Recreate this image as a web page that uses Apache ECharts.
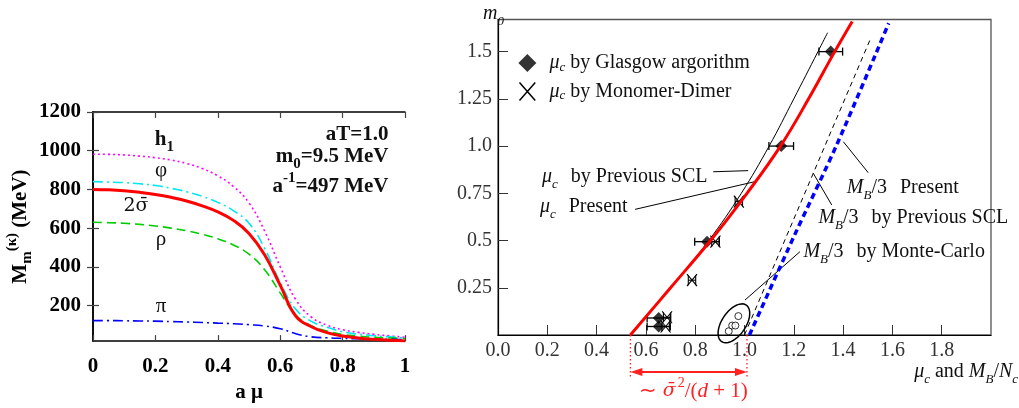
<!DOCTYPE html>
<html>
<head>
<meta charset="utf-8">
<script src="https://cdn.jsdelivr.net/npm/echarts@6/dist/echarts.min.js"></script>
<style>
html, body { margin: 0; padding: 0; background: #fff; }
#chart { width: 1019px; height: 408px; }
</style>
</head>
<body>
<div id="chart"></div>
<script>
// ---------- left panel: meson masses against a*mu ----------
var amu = [0, 0.05, 0.1, 0.15, 0.2, 0.25, 0.3, 0.35, 0.4, 0.45, 0.5, 0.55, 0.6, 0.65, 0.7, 0.75, 0.8, 0.85, 0.9, 0.95, 1.0];
var massH1    = [982, 981, 978, 972, 964, 952, 934, 908, 870, 815, 730, 585, 400, 230, 140, 98, 75, 61, 51, 43, 36];
var massPhi   = [840, 838, 835, 829, 820, 806, 788, 764, 733, 690, 625, 495, 320, 180, 118, 88, 64, 52, 44, 38, 32];
var massSigma = [800, 798, 793, 785, 774, 759, 740, 715, 684, 640, 572, 462, 305, 145, 90, 60, 42, 32, 25, 20, 17];
var massRho   = [630, 628, 625, 619, 611, 600, 586, 568, 545, 513, 465, 385, 265, 150, 95, 68, 50, 42, 36, 32, 28];
var massPi    = [122, 122, 121, 120, 119, 117, 115, 112, 109, 106, 101, 94, 80, 54, 38, 33, 30, 28, 27, 25, 24];
var leftXTicks = [0, 0.2, 0.4, 0.6, 0.8, 1];
var leftYTicks = [200, 400, 600, 800, 1000, 1200];

// ---------- right panel: critical chemical potential ----------
var presentM0 = [0, 0.25, 0.5, 0.75, 1.0, 1.25, 1.5, 1.66];
var presentMu = [0.537, 0.70, 0.862, 1.01, 1.146, 1.26, 1.366, 1.437];
var sclM0 = [0, 0.25, 0.5, 0.75, 1.0, 1.25, 1.5, 1.6];
var sclMu = [0.537, 0.70, 0.855, 0.987, 1.10, 1.20, 1.298, 1.337];
var mbPresentM0 = [0, 0.52, 1.015, 1.65];
var mbPresentMu = [1.02, 1.2, 1.377, 1.585];
var mbSclM0 = [0, 1.571];
var mbSclMu = [1.0, 1.512];
var glasgowMu  = [0.652, 0.652, 0.848, 1.149, 1.35];
var glasgowM0  = [0.045, 0.09, 0.494, 1.0, 1.5];
var glasgowErr = [0.047, 0.047, 0.05, 0.05, 0.048];
var dimerMu  = [0.68, 0.686, 0.787, 0.882, 0.977];
var dimerM0  = [0.045, 0.094, 0.29, 0.494, 0.706];
var dimerErr = [0.015, 0.015, 0.015, 0.015, 0.015];
var monteMu = [0.936, 0.95, 0.963, 0.975];
var monteM0 = [0.02, 0.05, 0.05, 0.1];
var rightXTicks = [0, 0.2, 0.4, 0.6, 0.8, 1.0, 1.2, 1.4, 1.6, 1.8];
var rightYTicks = [0.25, 0.5, 0.75, 1.0, 1.25, 1.5];
var muGap = [0.537, 1.01];   // red bracket under the axis

var SERIF = "'Liberation Serif', 'Times New Roman', serif";
var DJ = "'DejaVu Serif', serif";

function zip(xs, ys) { return xs.map(function (x, i) { return [x, ys[i]]; }); }

// rich text pieces
function rt(size, weight, extra) {
  var o = { fontFamily: SERIF, fontSize: size, fontWeight: weight || 'normal', fontStyle: 'normal' };
  for (var k in extra) o[k] = extra[k];
  return o;
}
var richR = {
  n: rt(20),
  i: rt(20, 'normal', { fontStyle: 'italic' }),
  s: rt(13, 'normal', { fontStyle: 'italic', verticalAlign: 'bottom', lineHeight: 28 }),
  g: rt(20, 'normal', { padding: [0, 0, 0, 13] }),
  r: rt(21, 'normal', { fill: '#ff2020' }),
  ri: rt(21, 'normal', { fill: '#ff2020', fontStyle: 'italic' }),
  rs: rt(19, 'normal', { fill: '#ff2020', fontStyle: 'italic', fontFamily: DJ }),
  ru: rt(14, 'normal', { fill: '#ff2020', verticalAlign: 'top', lineHeight: 30, padding: [0, 0, 0, 2] })
};
var richL = {
  b: rt(21, 'bold'),
  n: rt(21),
  d: rt(19, 'normal', { fontFamily: DJ }),
  bs: rt(15, 'bold', { verticalAlign: 'bottom', lineHeight: 30 }),
  bp: rt(15, 'bold', { verticalAlign: 'top', lineHeight: 30 })
};

// text annotations: [x, y, text, align]
var leftNotes = [
  [0.198, 1059, '{b|h}{bs|1}', 'left'],
  [0.218, 898, '{n|φ}', 'center'],
  [0.138, 716, '{d|2σ̄}', 'center'],
  [0.218, 540, '{n|ρ}', 'center'],
  [0.218, 197, '{n|π}', 'center'],
  [0.947, 1084, '{b|aT=1.0}', 'right'],
  [0.947, 968, '{b|m}{bs|0}{b|=9.5 MeV}', 'right'],
  [0.947, 817, '{b|a}{bp|-1}{b|=497 MeV}', 'right']
];
var rightNotes = [
  [0.1785, 0.836, '{i|μ}{s|c}{g|by Previous SCL}', 'left'],
  [0.170, 0.678, '{i|μ}{s|c}{g|Present}', 'left'],
  [1.415, 0.777, '{i|M}{s|B}{n|/3}{g|Present}', 'left'],
  [1.30, 0.618, '{i|M}{s|B}{n|/3}{g|by Previous SCL}', 'left'],
  [1.239, 0.441, '{i|M}{s|B}{n|/3}{g|by Monte-Carlo}', 'left'],
  [-0.061, 1.70, '{i|m}{s|0}', 'left'],
  [2.11, -0.196, '{i|μ}{s|c}{n| and }{i|M}{s|B}{n|/}{i|N}{s|c}', 'right']
];
// leader lines from the labels: [x1, y1, x2, y2]
var leaders = [
  [0.873, 0.864, 1.015, 0.870],
  [0.556, 0.665, 1.043, 0.812],
  [1.401, 1.023, 1.502, 0.859],
  [1.279, 0.856, 1.354, 0.688],
  [1.002, 0.185, 1.225, 0.441]
];

function seg(x1, y1, x2, y2, style) {
  return { type: 'line', shape: { x1: x1, y1: y1, x2: x2, y2: y2 }, style: style };
}

function noteSeries(xi, yi, notes, rich) {
  return {
    type: 'custom', xAxisIndex: xi, yAxisIndex: yi, clip: false, silent: true, z: 10,
    data: notes.map(function (n) { return [n[0], n[1]]; }),
    renderItem: function (params, api) {
      var n = notes[params.dataIndex];
      var p = api.coord([api.value(0), api.value(1)]);
      return { type: 'text', x: p[0], y: p[1],
        style: { text: n[2], rich: rich, align: n[3], verticalAlign: 'middle', fill: '#111',
                 fontFamily: SERIF, fontSize: 20 } };
    }
  };
}

function leftLine(name, data, color, width, type) {
  return { name: name, type: 'line', xAxisIndex: 0, yAxisIndex: 0, symbol: 'none',
    smooth: 0.45, data: zip(amu, data),
    lineStyle: { color: color, width: width, type: type } };
}

var chart = echarts.init(document.getElementById('chart'));

var leftTick = { show: true, inside: true, length: 6, lineStyle: { color: '#444', width: 1.2 } };
var leftLineStyle = { show: true, lineStyle: { color: '#000', width: 1.5 } };
var rightTick = { show: true, inside: true, length: 10, lineStyle: { color: '#333', width: 1 } };

chart.setOption({
  animation: false,
  grid: [
    { left: 93, top: 112, width: 312, height: 235, show: false },
    { left: 498, top: 19.5, width: 493, height: 315.5, show: true, borderColor: '#555', borderWidth: 1.3 }
  ],
  legend: {
    left: 512, top: 48, orient: 'vertical', itemGap: 6, itemWidth: 18, itemHeight: 18,
    selectedMode: false,
    data: [
      { name: 'glasgow', icon: 'diamond', itemStyle: { color: '#000' } },
      { name: 'monomer', icon: 'path://M0,0L14,16M14,0L0,16',
        itemStyle: { color: 'none', borderColor: '#000', borderWidth: 1.5 } }
    ],
    formatter: function (name) {
      return name === 'glasgow' ? '{i|μ}{s|c}{n| by Glasgow argorithm}'
                                : '{i|μ}{s|c}{n| by Monomer-Dimer}';
    },
    textStyle: { color: '#111', rich: {
      n: rt(20, 'normal', { color: '#111' }),
      i: rt(20, 'normal', { fontStyle: 'italic', padding: [0, 0, 0, 8], color: '#111' }),
      s: rt(13, 'normal', { fontStyle: 'italic', verticalAlign: 'bottom', lineHeight: 22, color: '#111' })
    } }
  },
  xAxis: [
    { gridIndex: 0, type: 'value', min: 0, max: 1, interval: 0.2,
      axisLine: leftLineStyle, axisTick: leftTick, splitLine: { show: false },
      axisLabel: { margin: 15, color: '#000', fontFamily: SERIF, fontWeight: 'bold', fontSize: 21,
        customValues: leftXTicks,
        formatter: function (v) { return (v === 0 || v === 1) ? String(v) : v.toFixed(1); } },
      name: 'a μ', nameLocation: 'middle', nameGap: 36,
      nameTextStyle: { color: '#000', fontFamily: SERIF, fontWeight: 'bold', fontSize: 21 } },
    { gridIndex: 0, type: 'value', position: 'top', min: 0, max: 1, interval: 0.2,
      axisLine: leftLineStyle, axisTick: leftTick, axisLabel: { show: false }, splitLine: { show: false } },
    { gridIndex: 1, type: 'value', min: 0, max: 2,
      axisLine: { show: true, lineStyle: { color: '#000', width: 1.2 } },
      axisTick: { show: true, inside: true, length: 10, lineStyle: { color: '#333', width: 1 },
        customValues: rightXTicks.slice(1) },
      splitLine: { show: false },
      axisLabel: { margin: 6, color: '#333', fontFamily: SERIF, fontSize: 20, customValues: rightXTicks,
        formatter: function (v) { return v.toFixed(1); } } }
  ],
  yAxis: [
    { gridIndex: 0, type: 'value', min: 16, max: 1200,
      axisLine: leftLineStyle, axisTick: Object.assign({ customValues: leftYTicks }, leftTick),
      splitLine: { show: false },
      axisLabel: { margin: 12, color: '#000', fontFamily: SERIF, fontWeight: 'bold', fontSize: 21,
        customValues: leftYTicks, formatter: function (v) { return String(v); } },
      name: '{b|M}{bs|m}{bp|(κ)}{b| (MeV)}', nameLocation: 'middle', nameGap: 45, nameRotate: 90,
      nameTextStyle: { color: '#000', rich: richL } },
    { gridIndex: 0, type: 'value', position: 'right', min: 16, max: 1200,
      axisLine: leftLineStyle, axisTick: Object.assign({ customValues: leftYTicks }, leftTick),
      axisLabel: { show: false }, splitLine: { show: false } },
    { gridIndex: 1, type: 'value', min: 0, max: 1.67,
      axisLine: { show: true, lineStyle: { color: '#000', width: 1.2 } },
      axisTick: Object.assign({ customValues: rightYTicks }, rightTick),
      splitLine: { show: false },
      axisLabel: { margin: 6, color: '#333', fontFamily: SERIF, fontSize: 20, customValues: rightYTicks,
        formatter: function (v) { return v === 1 ? '1.0' : String(v); } } }
  ],
  series: [
    leftLine('h1', massH1, '#ff00ff', 1.6, [2, 3]),
    leftLine('phi', massPhi, '#00e8f0', 1.6, [10, 4, 2, 4]),
    leftLine('rho', massRho, '#00cc00', 1.6, [9, 5]),
    leftLine('pi', massPi, '#0000ff', 1.6, [10, 4, 2, 4]),
    leftLine('sigma', massSigma, '#ff0000', 3, 'solid'),
    noteSeries(0, 0, leftNotes, richL),

    { name: 'mbScl', type: 'line', xAxisIndex: 2, yAxisIndex: 2, symbol: 'none',
      data: zip(mbSclMu, mbSclM0), lineStyle: { color: '#000', width: 1, type: [5, 4] } },
    { name: 'mbPresent', type: 'line', xAxisIndex: 2, yAxisIndex: 2, symbol: 'none', smooth: 0.3,
      data: zip(mbPresentMu, mbPresentM0), lineStyle: { color: '#0000ff', width: 3.5, type: [6, 4] } },
    { name: 'scl', type: 'line', xAxisIndex: 2, yAxisIndex: 2, symbol: 'none', smooth: 0.4,
      data: zip(sclMu, sclM0), lineStyle: { color: '#000', width: 1 } },
    { name: 'present', type: 'line', xAxisIndex: 2, yAxisIndex: 2, symbol: 'none', smooth: 0.4,
      data: zip(presentMu, presentM0), lineStyle: { color: '#ff0000', width: 3 } },
    { name: 'leaders', type: 'custom', xAxisIndex: 2, yAxisIndex: 2, silent: true,
      data: leaders,
      renderItem: function (params, api) {
        var a = api.coord([api.value(0), api.value(1)]);
        var b = api.coord([api.value(2), api.value(3)]);
        return seg(a[0], a[1], b[0], b[1], { stroke: '#000', lineWidth: 1 });
      } },
    { name: 'glasgowErr', type: 'custom', xAxisIndex: 2, yAxisIndex: 2, silent: true,
      data: glasgowMu.map(function (m, i) { return [m, glasgowM0[i], glasgowErr[i]]; }),
      renderItem: function (params, api) {
        var y = api.coord([api.value(0), api.value(1)])[1];
        var l = api.coord([api.value(0) - api.value(2), api.value(1)])[0];
        var r = api.coord([api.value(0) + api.value(2), api.value(1)])[0];
        var st = { stroke: '#000', lineWidth: 1.3 };
        return { type: 'group', children: [
          seg(l, y, r, y, st), seg(l, y - 4, l, y + 4, st), seg(r, y - 4, r, y + 4, st)
        ] };
      } },
    { name: 'glasgow', type: 'scatter', xAxisIndex: 2, yAxisIndex: 2, symbol: 'diamond',
      symbolSize: 12, itemStyle: { color: '#000' }, data: zip(glasgowMu, glasgowM0) },
    { name: 'monomer', type: 'custom', xAxisIndex: 2, yAxisIndex: 2,
      data: dimerMu.map(function (m, i) { return [m, dimerM0[i], dimerErr[i]]; }),
      renderItem: function (params, api) {
        var c = api.coord([api.value(0), api.value(1)]);
        var l = api.coord([api.value(0) - api.value(2), api.value(1)])[0];
        var r = api.coord([api.value(0) + api.value(2), api.value(1)])[0];
        var st = { stroke: '#000', lineWidth: 1.1 };
        return { type: 'group', children: [
          seg(c[0] - 5, c[1] - 6, c[0] + 5, c[1] + 6, st),
          seg(c[0] - 5, c[1] + 6, c[0] + 5, c[1] - 6, st),
          seg(l, c[1], r, c[1], st),
          seg(l, c[1] - 5, l, c[1] + 5, st), seg(r, c[1] - 5, r, c[1] + 5, st)
        ] };
      } },
    { name: 'monte', type: 'scatter', xAxisIndex: 2, yAxisIndex: 2, symbol: 'circle', symbolSize: 7,
      itemStyle: { color: '#fff', borderColor: '#000', borderWidth: 1 }, data: zip(monteMu, monteM0) },
    { name: 'ellipse', type: 'custom', xAxisIndex: 2, yAxisIndex: 2, clip: false, silent: true,
      data: [[0.957, 0.062]],
      renderItem: function (params, api) {
        var c = api.coord([api.value(0), api.value(1)]);
        var th = 34 * Math.PI / 180, a = 22, b = 12, pts = [];
        for (var k = 0; k < 60; k++) {
          var t = k / 60 * 2 * Math.PI;
          pts.push([c[0] + Math.sin(th) * a * Math.sin(t) + Math.cos(th) * b * Math.cos(t),
                    c[1] - Math.cos(th) * a * Math.sin(t) + Math.sin(th) * b * Math.cos(t)]);
        }
        return { type: 'polygon', shape: { points: pts }, style: { fill: 'none', stroke: '#000', lineWidth: 1.5 } };
      } },
    { name: 'gap', type: 'custom', xAxisIndex: 2, yAxisIndex: 2, clip: false, silent: true,
      data: [muGap],
      renderItem: function (params, api) {
        var p = api.coord([api.value(0), 0]);
        var q = api.coord([api.value(1), 0]);
        var y0 = p[1], ya = y0 + 37, red = '#ff2020';
        var dot = { stroke: red, lineWidth: 1.3, lineDash: [1.5, 2.5] };
        return { type: 'group', children: [
          seg(p[0], y0, p[0], y0 + 42, dot),
          seg(q[0], y0, q[0], y0 + 42, dot),
          seg(p[0] + 8, ya, q[0] - 8, ya, { stroke: red, lineWidth: 2 }),
          { type: 'polygon', shape: { points: [[p[0], ya], [p[0] + 12, ya - 4], [p[0] + 12, ya + 4]] }, style: { fill: red } },
          { type: 'polygon', shape: { points: [[q[0], ya], [q[0] - 12, ya - 4], [q[0] - 12, ya + 4]] }, style: { fill: red } },
          { type: 'text', x: (p[0] + q[0]) / 2 + 5, y: y0 + 56,
            style: { text: '{r|∼ }{rs|σ̄}{ru|2}{r|/(}{ri|d}{r| + 1)}', rich: richR, align: 'center',
                     verticalAlign: 'middle', fill: red, fontFamily: SERIF, fontSize: 21 } }
        ] };
      } },
    noteSeries(2, 2, rightNotes, richR)
  ]
});
</script>
</body>
</html>
